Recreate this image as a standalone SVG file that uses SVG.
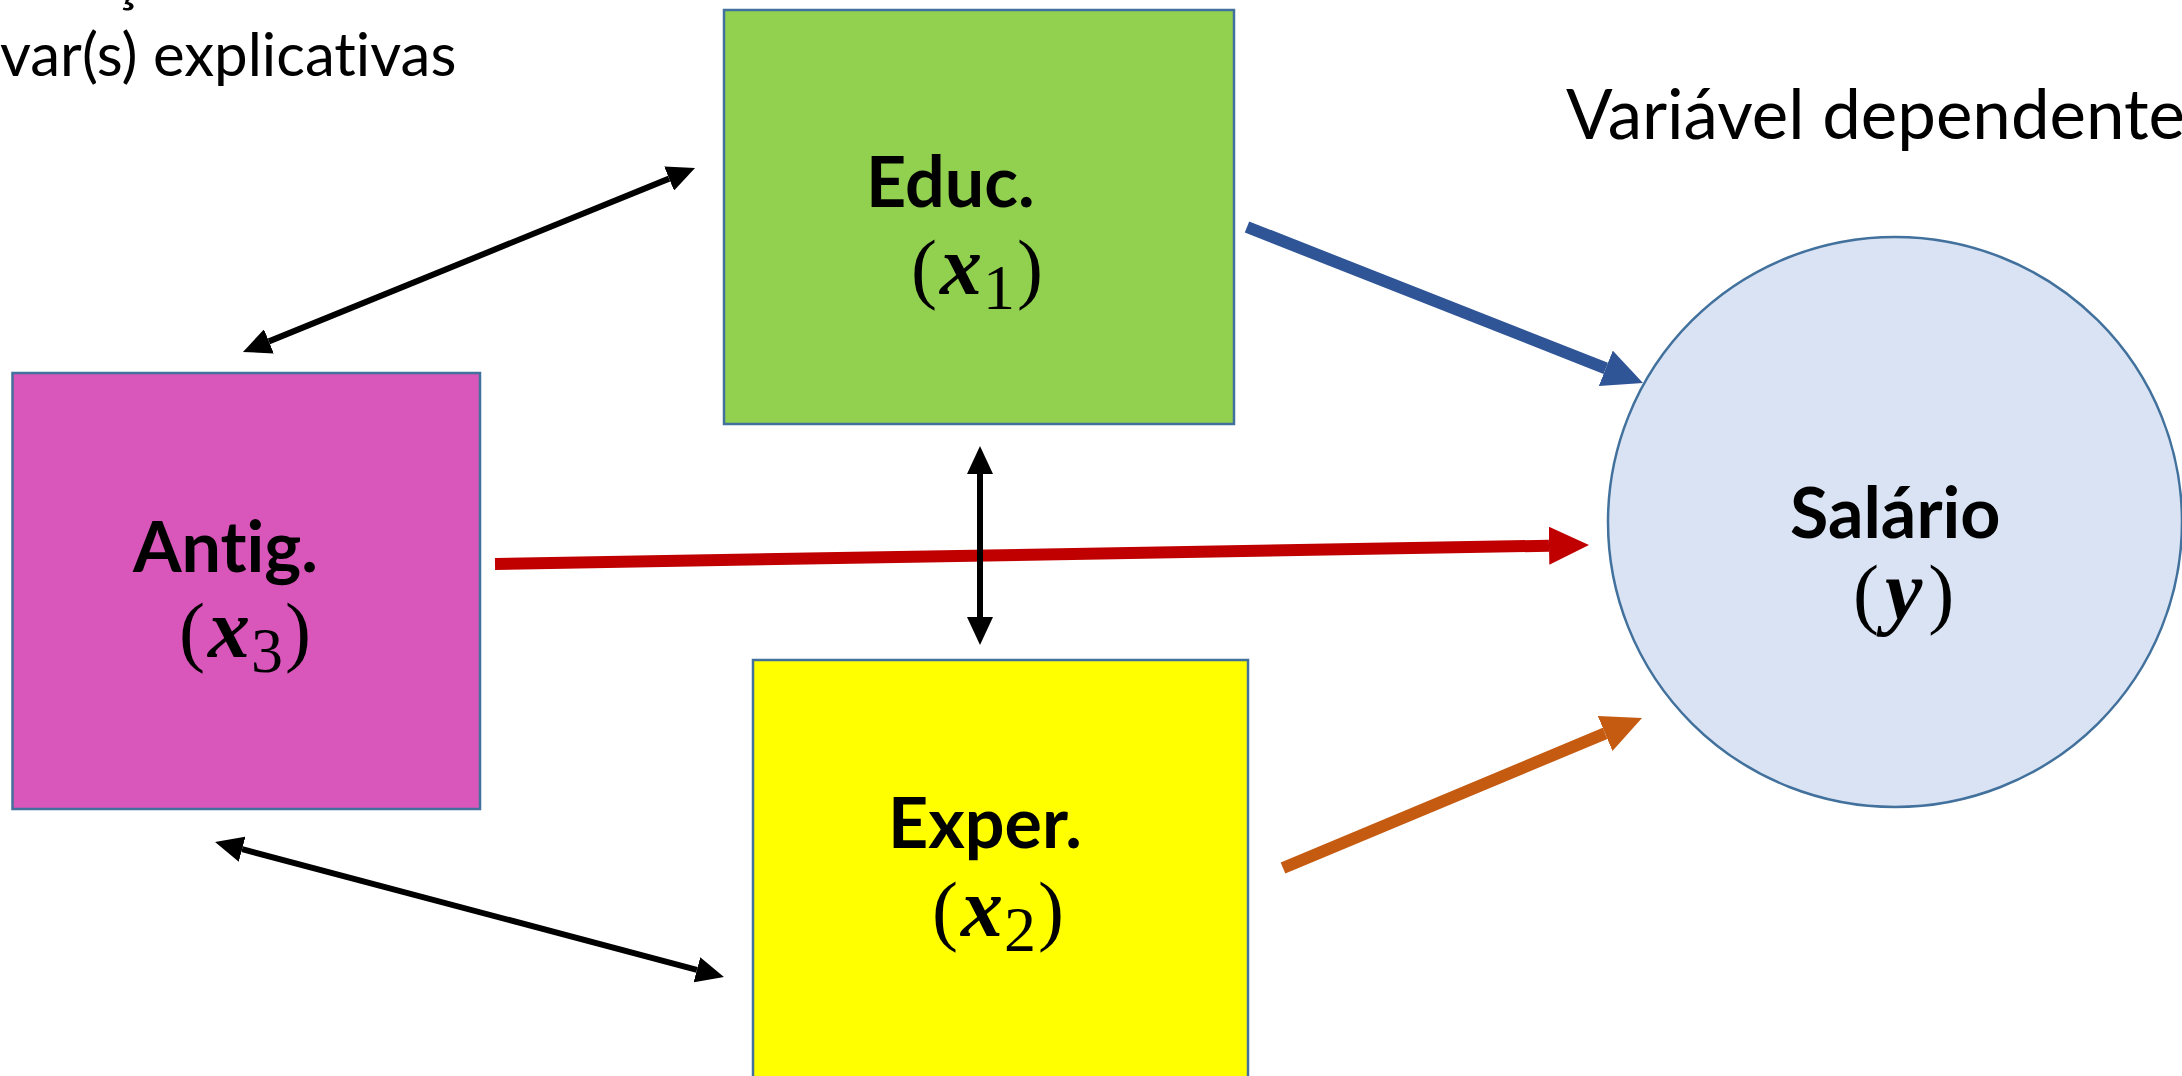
<svg xmlns="http://www.w3.org/2000/svg" width="2182" height="1076" viewBox="0 0 2182 1076">
<defs>
<style>
text{font-variant-ligatures:none;font-feature-settings:"liga" 0}
.box{stroke:#41719C;stroke-width:2.5}
.lbl{font-family:Lato,"Open Sans","Liberation Sans",sans-serif;font-weight:bold;font-size:70px;fill:#000}
.math{font-family:"Liberation Serif","DejaVu Serif",serif;font-size:78px;fill:#000}
.mv{font-style:italic;font-weight:bold;font-size:84px}
.sub{font-size:64px}
.cap{font-family:Lato,"Liberation Sans",sans-serif;fill:#000}
.dbl{stroke:#000;stroke-width:6;fill:none}
.eff{stroke-width:12;fill:none}
</style>
<marker id="hk" markerUnits="userSpaceOnUse" markerWidth="28" markerHeight="26" refX="0" refY="13" orient="auto-start-reverse" viewBox="0 0 28 26"><path d="M0,0 L28,13 L0,26 z" fill="#000"/></marker>
<marker id="hblue" markerUnits="userSpaceOnUse" markerWidth="40" markerHeight="38" refX="0" refY="19" orient="auto" viewBox="0 0 40 38"><path d="M0,0 L40,19 L0,38 z" fill="#2F5597"/></marker>
<marker id="hred" markerUnits="userSpaceOnUse" markerWidth="40" markerHeight="38" refX="0" refY="19" orient="auto" viewBox="0 0 40 38"><path d="M0,0 L40,19 L0,38 z" fill="#C00000"/></marker>
<marker id="horange" markerUnits="userSpaceOnUse" markerWidth="40" markerHeight="38" refX="0" refY="19" orient="auto" viewBox="0 0 40 38"><path d="M0,0 L40,19 L0,38 z" fill="#C55A11"/></marker>
</defs>
<rect width="2182" height="1076" fill="#fff"/>
<g id="captions">
<text class="cap" x="0" y="0" font-size="60">Relação entre</text>
<text class="cap" x="0" y="76" font-size="60">var(s) explicativas</text>
<text class="cap" x="1566" y="139" font-size="69">Variável dependente</text>
</g>
<g id="educ">
<rect x="724" y="10" width="510" height="414" fill="#92D050" class="box"/>
<text class="lbl" x="866" y="207">Educ.</text>
<text class="math" x="911" y="294">(<tspan class="mv" dx="3">x</tspan><tspan class="sub" dx="1" dy="15">1</tspan><tspan dy="-15" dx="2">)</tspan></text>
</g>
<g id="antig">
<rect x="12.5" y="373" width="467.5" height="436" fill="#D957BA" class="box"/>
<text class="lbl" x="133" y="572">Antig.</text>
<text class="math" x="179" y="657">(<tspan class="mv" dx="3">x</tspan><tspan class="sub" dx="1" dy="15">3</tspan><tspan dy="-15" dx="2">)</tspan></text>
</g>
<g id="exper">
<rect x="753" y="660" width="495" height="430" fill="#FFFF00" class="box"/>
<text class="lbl" x="888" y="848">Exper.</text>
<text class="math" x="932" y="936">(<tspan class="mv" dx="3">x</tspan><tspan class="sub" dx="1" dy="15">2</tspan><tspan dy="-15" dx="2">)</tspan></text>
</g>
<g id="salario">
<ellipse cx="1895" cy="522" rx="287" ry="285" fill="#DAE3F3" stroke="#41719C" stroke-width="2.5"/>
<text class="lbl" x="1790" y="538">Salário</text>
<text class="math" x="1853" y="619">(<tspan class="mv" dx="6">y</tspan><tspan dx="6">)</tspan></text>
</g>
<g id="connectors">
<line class="eff" stroke="#2F5597" x1="1247" y1="227" x2="1605.8" y2="368.3" marker-end="url(#hblue)"/>
<line class="eff" stroke="#C00000" x1="495" y1="564" x2="1549" y2="545.7" marker-end="url(#hred)"/>
<line class="eff" stroke="#C55A11" x1="1283" y1="868" x2="1605.1" y2="733.4" marker-end="url(#horange)"/>
<line class="dbl" x1="268.9" y1="341.4" x2="669.1" y2="178.6" marker-start="url(#hk)" marker-end="url(#hk)"/>
<line class="dbl" x1="980" y1="474" x2="980" y2="617" marker-start="url(#hk)" marker-end="url(#hk)"/>
<line class="dbl" x1="242.1" y1="849.2" x2="696.9" y2="969.8" marker-start="url(#hk)" marker-end="url(#hk)"/>
</g>
</svg>
